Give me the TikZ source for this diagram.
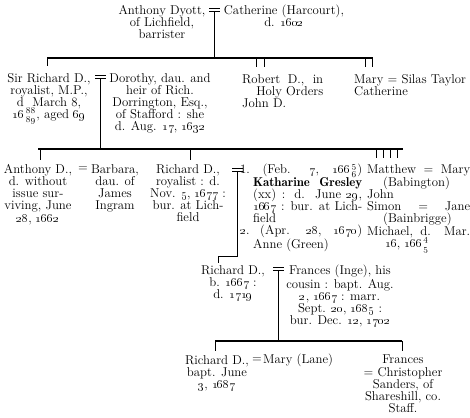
\documentclass[tikz,border=0pt]{standalone}
\usepackage{amsmath}
% old-style figures and stacked double-dated years
\newcommand\osn[1]{\oldstylenums{#1}}
\newcommand\dyr[2]{\smash{$\genfrac{}{}{0pt}{1}{\oldstylenums{#1}}{\oldstylenums{#2}}$}}
\begin{document}
\begin{tikzpicture}[x=1pt,y=-1pt,
  txt/.style={inner sep=0pt, font=\fontsize{12.8}{12.2}\selectfont},
  blk/.style={txt, align=center, anchor=north},
  lblk/.style={txt, align=left, anchor=north west},
  bar/.style={line width=1.1pt},
  stem/.style={line width=0.55pt},
  wed/.pic={\draw[stem] (-5.5,0)--(5.5,0) (-5.5,3.2)--(5.5,3.2);}
]
\useasboundingbox (0,0) rectangle (470,417);

% ---------- generation 1
\node[blk] (anthony) at (162,5) {Anthony Dyott,\\of Lichfield,\\barrister};
\node[blk] (cath) at (284,5) {Catherine (Harcourt),\\d. \osn{1602}};
\pic at (214.5,8.5) {wed};
\coordinate (m1) at (214.5,11.7);
\coordinate (b1) at (214.5,58);
\coordinate (b1l) at (47,58);
\coordinate (b1r) at (373,58);
\draw[stem] (m1) -- (b1);
\draw[bar] (b1l) -- (b1r);

% ---------- generation 2
\node[blk] (sirrich) at (49,73) {Sir Richard D.,\\royalist, M.P.,\\d\ \ March 8,\\\osn{16}\dyr{88}{89}, aged \osn{69}};
\node[blk] (dorothy) at (160,73) {Dorothy, dau. and\\heir of Rich.\\Dorrington, Esq.,\\of Stafford : she\\d. Aug. \osn{17}, \osn{1632}};
\node[lblk] (robert) at (242,74) {\makebox[81pt][s]{Robert D., in}\\\makebox[81pt][r]{Holy Orders}\\John D.};
\node[lblk] (mary) at (354,74) {Mary = Silas Taylor\\Catherine};

\coordinate (t1) at (47,66);
\coordinate (t2a) at (256,58); \coordinate (t2b) at (256,67);
\coordinate (t3a) at (264,58); \coordinate (t3b) at (264,67);
\coordinate (t4a) at (365,58); \coordinate (t4b) at (365,67);
\coordinate (t5a) at (372,58); \coordinate (t5b) at (372,67);
\draw[stem] (b1l) -- (t1);
\draw[stem] (t2a) -- (t2b) (t3a) -- (t3b) (t4a) -- (t4b) (t5a) -- (t5b);

\pic at (100.5,75) {wed};
\coordinate (m2) at (100.5,78.2);
\coordinate (b2) at (100.5,149);
\coordinate (b2l) at (38,149);
\coordinate (b2r) at (403,149);
\draw[stem] (m2) -- (b2);
\draw[bar] (b2l) -- (b2r);

% ---------- generation 3
\node[blk] (anth2) at (38,164) {Anthony D.,\\d. without\\issue sur-\\viving, June\\\osn{28}, \osn{1662}};
\node[txt] (eq1) at (83,169) {=};
\node[blk] (barbara) at (115,164) {Barbara,\\dau. of\\James\\Ingram};
\node[blk] (rich2) at (188,164) {Richard D.,\\royalist : d.\\Nov. \osn{5}, \osn{1677} :\\bur. at Lich-\\field};
\node[lblk] (kath) at (240,164) {\makebox[122pt][s]{1. (Feb. \ \osn{7}, \ \osn{166}\dyr{5}{6})}\\
  \hspace*{13pt}\makebox[109pt][s]{\fontseries{b}\selectfont Katharine Gresley}\\
  \hspace*{13pt}\makebox[109pt][s]{(xx) : d. June \osn{29},}\\
  \hspace*{13pt}\makebox[109pt][s]{\osn{1667} : bur. at Lich-}\\
  \hspace*{13pt}field\\
  \makebox[122pt][s]{\osn{2}. (Apr. \ \osn{28}, \ \osn{1670})}\\
  \hspace*{13pt}Anne (Green)};
\node[lblk] (matthew) at (367,164) {\makebox[103pt][s]{Matthew = Mary}\\
  \hspace*{16pt}(Babington)\\
  John\\
  \makebox[103pt][s]{Simon \ = \ Jane}\\
  \hspace*{16pt}(Bainbrigge)\\
  \makebox[103pt][s]{Michael, d. Mar.}\\
  \hspace*{18pt}\osn{16}, \osn{166}\dyr{4}{5}};

\coordinate (t6) at (40,160);  \coordinate (t6a) at (40,149);
\coordinate (t7) at (190,160); \coordinate (t7a) at (190,149);
\draw[stem] (t6a) -- (t6) (t7a) -- (t7);
\foreach \xx in {376,383,390,397}
  \draw[stem] (\xx,149) -- (\xx,158);

\pic at (237.5,168) {wed};
\coordinate (m3) at (237.5,171.2);
\coordinate (b3) at (237.5,256);
\coordinate (b3t) at (218,256);
\coordinate (t8) at (218,263);
\draw[stem] (m3) -- (b3) -- (b3t) -- (t8);

% ---------- generation 4
\node[blk] (rich3) at (233,265) {Richard D.,\\b. \osn{1667} :\\d. \osn{1719}};
\node[blk] (frances) at (340,265) {Frances (Inge), his\\cousin : bapt. Aug.\\\osn{2}, \osn{1667} : marr.\\Sept. \osn{20}, \osn{1685} :\\bur. Dec. \osn{12}, \osn{1702}};
\pic at (278.5,267) {wed};
\coordinate (m4) at (278.5,270.2);
\coordinate (b4) at (278.5,341);
\coordinate (b4l) at (215,341);
\coordinate (b4r) at (402,341);
\draw[stem] (m4) -- (b4);
\draw[bar] (b4l) -- (b4r);
\coordinate (t9) at (215,351);
\coordinate (t10) at (402,351);
\draw[stem] (b4l) -- (t9) (b4r) -- (t10);

% ---------- generation 5
\node[blk] (rich4) at (217,355) {Richard D.,\\bapt. June\\\osn{3}, \osn{1687}};
\node[txt] (eq2) at (257,360) {=};
\node[txt, anchor=west] (marylane) at (263,360) {Mary (Lane)};
\node[blk] (frances2) at (403,355) {Frances\\= Christopher\\Sanders, of\\Shareshill, co.\\Staff.};
\end{tikzpicture}
\end{document}
